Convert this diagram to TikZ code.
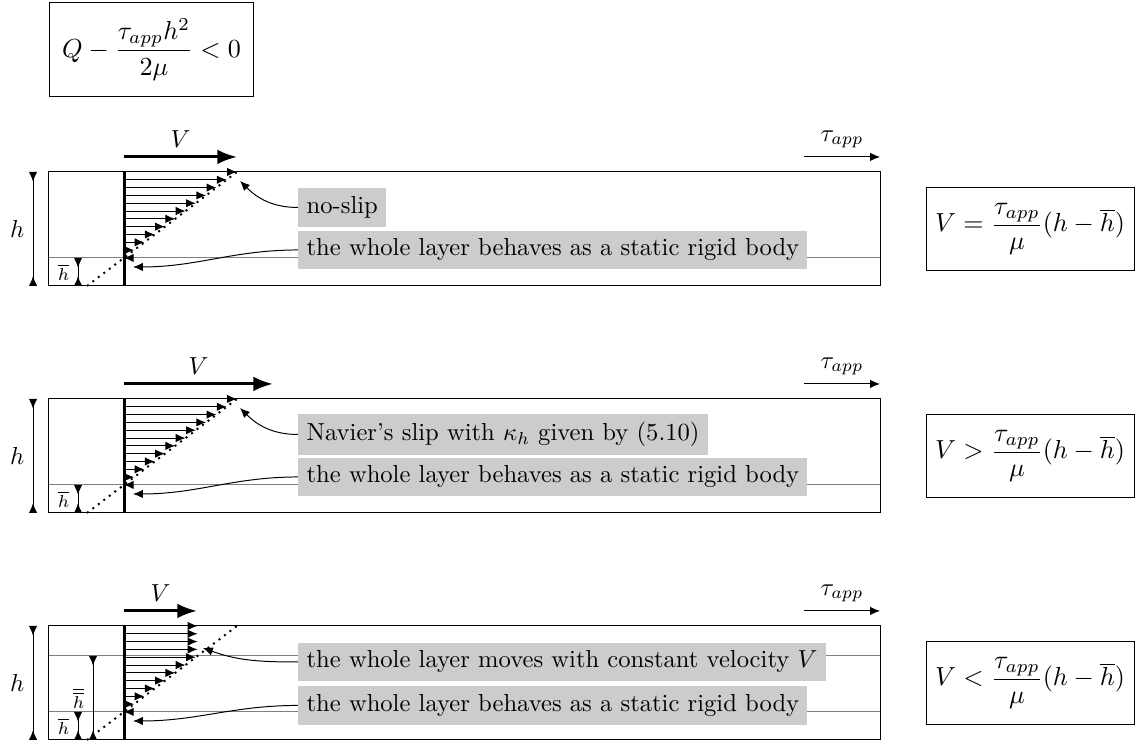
\documentclass[tikz,border=0pt]{standalone}
\usepackage{amsmath}
\usepackage{tikz}
\usetikzlibrary{arrows.meta}

\begin{document}
\begin{tikzpicture}[>={Latex[length=4pt,width=3.4pt]},
	note/.style={fill=gray!40},
	eqbox/.style={draw,scale=1.06,transform shape},
	level/.style={gray},
	speed/.style={very thick,-{Latex[length=8pt,width=6pt]}}]
		\useasboundingbox (-0.686,-0.057) rectangle (15.529,10.571);
		\node[eqbox,inner xsep=5pt,inner ysep=6.1pt] (cond) at (1.479,9.864) {$\displaystyle Q-\frac{\tau_{app}h^2}{2\mu}<0$};

		\begin{scope}[yshift=6.486cm]
		\draw[level] (0,0.4) -- (11.886,0.4);
		\draw (0,0) rectangle (11.886,1.629);
		\draw[very thick] (1.086,0) -- (1.086,1.629);
		\foreach \i in {0,...,11} {
			\pgfmathsetmacro\yy{0.4+\i*0.1117}
			\draw[->] (1.086,\yy) -- ({0.557+\yy/0.76},\yy);
		}
		\draw[thick,dotted] (0.557,0) -- (2.7,1.629);
		\draw[speed] (1.086,1.843) -- node[midway,above] {$V$} (2.7,1.843);
		\draw[->] (10.8,1.843) -- node[midway,above] {$\tau_{app}$} (11.886,1.843);
		\draw[>-<] (-0.214,0) -- node[midway,left] {$h$} (-0.214,1.629);
		\draw[>-<] (0.429,0) -- node[midway,left] {\scriptsize$\overline{h}$} (0.429,0.4);
		\coordinate (slipA) at (2.743,1.5);
		\coordinate (wallA) at (1.214,0.271);
		\node[note,anchor=west] (noslip) at (3.571,1.121) {no-slip};
		\node[note,anchor=west] (rigidA) at (3.571,0.514) {the whole layer behaves as a static rigid body};
		\draw[->] (noslip.west) to[out=180,in=-45] (slipA);
		\draw[->] (rigidA.west) to[out=180,in=0] (wallA);
		\node[eqbox,inner xsep=3.5pt,inner ysep=6pt] (eqA) at (14.03,0.814) {$\displaystyle V=\frac{\tau_{app}}{\mu}(h-\overline{h})$};
		\end{scope}

		\begin{scope}[yshift=3.243cm]
		\draw[level] (0,0.4) -- (11.886,0.4);
		\draw (0,0) rectangle (11.886,1.629);
		\draw[very thick] (1.086,0) -- (1.086,1.629);
		\foreach \i in {0,...,11} {
			\pgfmathsetmacro\yy{0.4+\i*0.1117}
			\draw[->] (1.086,\yy) -- ({0.557+\yy/0.76},\yy);
		}
		\draw[thick,dotted] (0.557,0) -- (2.7,1.629);
		\draw[speed] (1.086,1.843) -- node[midway,above] {$V$} (3.214,1.843);
		\draw[->] (10.8,1.843) -- node[midway,above] {$\tau_{app}$} (11.886,1.843);
		\draw[>-<] (-0.214,0) -- node[midway,left] {$h$} (-0.214,1.629);
		\draw[>-<] (0.429,0) -- node[midway,left] {\scriptsize$\overline{h}$} (0.429,0.4);
		\coordinate (slipB) at (2.743,1.5);
		\coordinate (wallB) at (1.214,0.271);
		\node[note,anchor=west] (navier) at (3.571,1.121) {Navier's slip with $\kappa_h$ given by (5.10)};
		\node[note,anchor=west] (rigidB) at (3.571,0.514) {the whole layer behaves as a static rigid body};
		\draw[->] (navier.west) to[out=180,in=-45] (slipB);
		\draw[->] (rigidB.west) to[out=180,in=0] (wallB);
		\node[eqbox,inner xsep=3.5pt,inner ysep=6pt] (eqB) at (14.03,0.814) {$\displaystyle V>\frac{\tau_{app}}{\mu}(h-\overline{h})$};
		\end{scope}

		\begin{scope}
		\draw[level] (0,0.4) -- (11.886,0.4) (0,1.2) -- (11.886,1.2);
		\draw (0,0) rectangle (11.886,1.629);
		\draw[very thick] (1.086,0) -- (1.086,1.629);
		\foreach \i in {0,...,11} {
			\pgfmathsetmacro\yy{0.4+\i*0.1117}
			\draw[->] (1.086,\yy) -- ({min(0.557+\yy/0.76,2.136)},\yy);
		}
		\draw[thick,dotted] (0.557,0) -- (2.7,1.629);
		\draw[speed] (1.086,1.843) -- node[midway,above] {$V$} (2.129,1.843);
		\draw[->] (10.8,1.843) -- node[midway,above] {$\tau_{app}$} (11.886,1.843);
		\draw[>-<] (-0.214,0) -- node[midway,left] {$h$} (-0.214,1.629);
		\draw[>-<] (0.643,0) -- node[midway,left] {\scriptsize$\overline{\overline{h}}$} (0.643,1.2);
		\draw[>-<] (0.429,0) -- node[midway,left] {\scriptsize$\overline{h}$} (0.429,0.4);
		\coordinate (slipC) at (2.214,1.314);
		\coordinate (wallC) at (1.214,0.271);
		\node[note,anchor=west] (moving) at (3.571,1.114) {the whole layer moves with constant velocity $V$};
		\node[note,anchor=west] (rigidC) at (3.571,0.493) {the whole layer behaves as a static rigid body};
		\draw[->] (moving.west) to[out=180,in=-20] (slipC);
		\draw[->] (rigidC.west) to[out=180,in=0] (wallC);
		\node[eqbox,inner xsep=3.5pt,inner ysep=6pt] (eqC) at (14.03,0.814) {$\displaystyle V<\frac{\tau_{app}}{\mu}(h-\overline{h})$};
		\end{scope}
		\end{tikzpicture}
\end{document}
